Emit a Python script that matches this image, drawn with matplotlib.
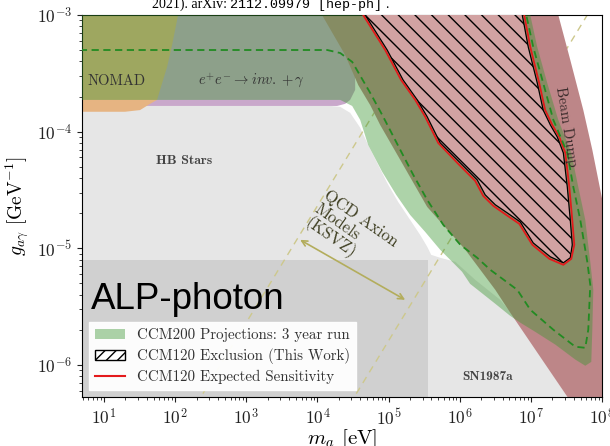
import matplotlib.pyplot as plt
from matplotlib.patches import Patch
from matplotlib.lines import Line2D

plt.rcParams['mathtext.fontset'] = 'cm'
plt.rcParams['axes.formatter.use_mathtext'] = True
plt.rcParams['font.family'] = ['cmr10', 'DejaVu Sans']

# ---- limits: mass m_a [eV], coupling g_ag [GeV^-1]
m_lim = (4.9, 1e8)
g_lim = (5.3e-7, 1e-3)

# HB stars + SN1987a bound (one light grey region)
stars_m = [1, 1, 1.51e4, 2.09e4, 2.88e4, 3.99e4, 5.00e4, 6.91e4, 9.56e4, 1.36e5, 2.01e5, 2.78e5,
           3.49e5, 3.97e5, 5.32e5, 8.64e5, 1.65e6, 3.71e6, 6.03e6, 3.25e7, 5.28e7, 5.28e7]
stars_g = [1e-7, 1.66e-4, 1.66e-4, 1.63e-4, 1.45e-4, 1.08e-4, 8.0e-5, 5.39e-5, 3.63e-5, 2.50e-5, 1.75e-5, 1.30e-5,
           1.03e-5, 8.78e-6, 8.28e-6, 7.65e-6, 5.36e-6, 3.61e-6, 2.53e-6, 5.33e-7, 3.38e-7, 1e-7]

# darker grey block at low mass / low coupling
low_m = [1, 3.61e5, 3.61e5, 1]
low_g = [8.0e-6, 8.0e-6, 1e-7, 1e-7]

# beam dump
bd_m = [9e3, 1.16e4, 2.45e4, 3.74e4, 5.51e4, 7.62e4, 1.46e5, 3.49e5, 1.20e6, 3.16e6, 5.13e6, 3.25e7, 5.28e7,
        1e9, 1.81e8, 1.01e8, 7.31e7, 5.46e7, 3.58e7, 2.43e7, 2.2e7]
bd_g = [1.2e-3, 1e-3, 4.54e-4, 2.51e-4, 1.69e-4, 1.14e-4, 5.72e-5, 2.26e-5, 9.69e-6, 4.40e-6, 2.80e-6, 5.33e-7, 3.38e-7,
        3.38e-7, 4.40e-6, 2.60e-5, 6.97e-5, 1.53e-4, 4.12e-4, 1e-3, 1.2e-3]

# e+e- -> inv. + gamma
ee_m = [1, 1.89e4, 2.45e4, 2.88e4, 3.39e4, 3.39e4, 1]
ee_g = [1.66e-4, 1.66e-4, 1.73e-4, 1.87e-4, 2.28e-4, 1.2e-3, 1.2e-3]

# NOMAD
nomad_m = [1, 19.7, 32.1, 44.4, 55.6, 61.3, 76.9, 90.5, 109.9, 112, 1]
nomad_g = [1.48e-4, 1.48e-4, 1.53e-4, 1.73e-4, 1.87e-4, 2.28e-4, 3.58e-4, 5.53e-4, 1e-3, 1.2e-3, 1.2e-3]

# CCM200 projection, 3 year run
ccm200_m = [1, 1.0e7, 9.81e6, 1.23e7, 1.70e7, 2.43e7, 3.70e7, 4.64e7, 5.82e7, 6.84e7, 7.55e7, 7.31e7, 7.07e7,
            5.82e7, 4.21e7, 2.21e7, 1.15e7, 7.10e6, 5.13e6, 3.16e6, 1.94e6, 1.40e6, 1.08e6, 7.84e5, 5.32e5,
            3.27e5, 2.01e5, 1.28e5, 8.13e4, 5.16e4, 3.99e4, 3.08e4, 2.09e4, 1]
ccm200_g = [1.2e-3, 1.2e-3, 1e-3, 5.32e-4, 2.61e-4, 1.26e-4, 6.57e-5, 3.36e-5, 1.75e-5, 7.65e-6, 4.40e-6, 2.0e-6, 1.06e-6,
            9.82e-7, 1.11e-6, 1.49e-6, 1.92e-6, 2.30e-6, 2.63e-6, 3.34e-6, 4.23e-6, 4.95e-6, 6.28e-6, 7.65e-6, 9.69e-6,
            1.38e-5, 1.93e-5, 2.87e-5, 4.52e-5, 7.69e-5, 1.26e-4, 1.66e-4, 1.87e-4, 1.87e-4]

# CCM200 dashed contour
dash_m = [1, 1.37e4, 2.09e4, 3.08e4, 5.51e4, 8.40e4, 1.46e5, 2.22e5, 3.49e5, 5.86e5, 1.02e6, 1.76e6, 2.69e6,
          6.44e6, 9.81e6, 2.07e7, 4.21e7, 5.82e7, 6.41e7, 6.84e7, 6.21e7, 4.95e7, 3.95e7, 3.25e7, 2.07e7,
          1.49e7, 1.08e7, 8.61e6, 8.07e6]
dash_g = [5.01e-4, 5.01e-4, 4.72e-4, 3.96e-4, 2.15e-4, 1.34e-4, 6.97e-5, 4.26e-5, 2.60e-5, 1.59e-5, 1.07e-5, 8.28e-6, 6.53e-6,
          4.40e-6, 2.97e-6, 2.0e-6, 1.43e-6, 1.40e-6, 2.0e-6, 4.86e-6, 7.65e-6, 1.75e-5, 3.36e-5, 6.57e-5, 1.26e-4,
          2.61e-4, 5.32e-4, 1e-3, 1.2e-3]

# CCM120 exclusion (this work)
excl_m = [3.86e4, 4.69e4, 9.56e4, 1.60e5, 2.53e5, 3.49e5, 5.32e5, 1.02e6, 1.76e6, 2.28e6, 3.16e6, 4.66e6, 7.10e6,
          1.08e7, 1.88e7, 2.86e7, 3.58e7, 3.82e7, 3.58e7, 3.25e7, 2.86e7, 2.35e7, 1.88e7, 1.49e7, 1.23e7,
          9.19e6, 7.57e6, 7.10e6]
excl_g = [1.2e-3, 1e-3, 5.01e-4, 2.77e-4, 1.87e-4, 1.34e-4, 8.0e-5, 5.39e-5, 3.86e-5, 2.87e-5, 2.36e-5, 2.01e-5, 1.68e-5,
          1.11e-5, 8.44e-6, 7.50e-6, 8.28e-6, 1.07e-5, 1.75e-5, 3.36e-5, 6.57e-5, 9.0e-5, 1.14e-4, 1.53e-4, 2.61e-4,
          5.32e-4, 1e-3, 1.2e-3]

# CCM120 expected sensitivity
sens_m = [3.7e4, 4.39e4, 8.96e4, 1.50e5, 2.37e5, 3.27e5, 4.98e5, 9.53e5, 1.65e6, 2.14e6, 2.96e6, 4.51e6, 6.87e6,
          1.05e7, 1.82e7, 2.86e7, 3.70e7, 4.08e7, 3.82e7, 3.47e7, 3.05e7, 2.51e7, 2.0e7, 1.59e7, 1.31e7,
          9.81e6, 8.07e6, 7.6e6]
sens_g = [1.2e-3, 1e-3, 5.01e-4, 2.77e-4, 1.87e-4, 1.34e-4, 8.0e-5, 5.29e-5, 3.78e-5, 2.81e-5, 2.31e-5, 1.93e-5, 1.62e-5,
          1.07e-5, 8.11e-6, 7.21e-6, 8.11e-6, 1.07e-5, 1.75e-5, 3.36e-5, 6.57e-5, 9.0e-5, 1.14e-4, 1.53e-4, 2.61e-4,
          5.32e-4, 1e-3, 1.2e-3]

# QCD axion band edges (KSVZ) and the arrow between them
qcd_m = [1, 1e9]
qcd_hi_g = [2.31e-9, 2.31]
qcd_lo_g = [1.61e-11, 1.61e-2]
arrow_m = [5.71e3, 1.71e5]
arrow_g = [1.18e-5, 3.61e-6]

GREEN = '#3c9632'

fig = plt.figure(figsize=(6.1, 4.46), dpi=100)
ax = fig.add_axes([82 / 610, 1 - 397 / 446, 520 / 610, 382 / 446])
ax.set_xscale('log')
ax.set_yscale('log')

ax.fill(stars_m, stars_g, color='#e6e6e6', lw=0, zorder=1)
ax.fill(low_m, low_g, color='#d0d0d0', lw=0, zorder=1.1)
ax.plot(qcd_m, qcd_hi_g, color='#cdc88c', lw=1.0, ls=(0, (5, 4)), zorder=1.5)
ax.plot(qcd_m, qcd_lo_g, color='#cdc88c', lw=1.0, ls=(0, (5, 4)), zorder=1.5)
ax.fill(ee_m, ee_g, color='#c9a8cb', lw=0, zorder=1.8)
ax.fill(bd_m, bd_g, color='#bd8688', lw=0, zorder=2)
ax.fill(nomad_m, nomad_g, color='#e6b482', lw=0, zorder=2.2)
ax.fill(ccm200_m, ccm200_g, color=GREEN, alpha=0.42, lw=0, zorder=3)
ax.fill(excl_m, excl_g, facecolor='#d2a2a2', edgecolor='black', hatch='\\\\', lw=0.9, zorder=4)
ax.plot(sens_m, sens_g, color='#e41a1c', lw=1.3, zorder=5)
ax.plot(dash_m, dash_g, color='#228b22', lw=1.3, ls=(0, (4, 2.5)), zorder=5)
ax.annotate('', xy=(arrow_m[0], arrow_g[0]), xytext=(arrow_m[1], arrow_g[1]),
            arrowprops=dict(arrowstyle='<->', color='#b3ad5c', lw=1.2, shrinkA=0, shrinkB=0), zorder=5)

ax.set_xlim(*m_lim)
ax.set_ylim(*g_lim)

lab = dict(fontsize=10.5, color='#333333', ha='center', va='center', zorder=6)
ax.text(15.2, 2.72e-4, 'NOMAD', **lab)
ax.text(1168, 2.72e-4, r'$e^{+}e^{-}\rightarrow inv. + \gamma$', **lab)
ax.text(133, 5.61e-5, 'HB Stars', family='cmb10', fontsize=10, color='#444444', ha='center', va='center', zorder=6)
ax.text(2.44e6, 7.9e-7, 'SN1987a', family='cmb10', fontsize=9.5, color='#444444', ha='center', va='center', zorder=6)
ax.text(3.15e7, 1.1e-4, 'Beam Dump', fontsize=10.5, color='#3a2b2b', rotation=-81, ha='center', va='center',
        rotation_mode='anchor', zorder=6)
ax.text(1.5e4, 3.3e-5, 'QCD Axion\nModels\n(KSVZ)', fontsize=12, color='#3f3f22', rotation=-35,
        rotation_mode='anchor', ha='left', va='top', linespacing=1.05, zorder=6)

ax.set_xlabel(r'$m_a$ [eV]', fontsize=15, labelpad=0)
ax.set_ylabel(r'$g_{a\gamma}$ [GeV$^{-1}$]', fontsize=14)
ax.tick_params(labelsize=12.5, colors='#222222')
ax.tick_params(which='minor', colors='#222222')

handles = [Patch(facecolor=GREEN, alpha=0.42, edgecolor='none'),
           Patch(facecolor='white', edgecolor='black', hatch='///'),
           Line2D([], [], color='#e41a1c', lw=1.5)]
labels = ['CCM200 Projections: 3 year run', 'CCM120 Exclusion (This Work)', 'CCM120 Expected Sensitivity']
leg = ax.legend(handles, labels, loc='lower left', fontsize=10.8, fancybox=False, framealpha=0.95,
                edgecolor='white', facecolor='white', borderaxespad=0.45, labelspacing=0.4)
for t in leg.get_texts():
    t.set_color('#333333')
leg.set_zorder(7)

fig.text(91 / 610, 1 - 309 / 446, 'ALP-photon', family='Liberation Sans', fontsize=26.5, color='black',
         ha='left', va='baseline')
fig.text(152 / 610, 1 - 8 / 446, '2021). arXiv: ', family='Liberation Serif', fontsize=10, ha='left', va='baseline')
fig.text(230 / 610, 1 - 8 / 446, '2112.09979 [hep-ph]', family='Liberation Mono', fontsize=9.6, ha='left',
         va='baseline')
fig.text(385 / 610, 1 - 8 / 446, '.', family='Liberation Serif', fontsize=10, ha='left', va='baseline')

fig.savefig('out.png', dpi=100)
